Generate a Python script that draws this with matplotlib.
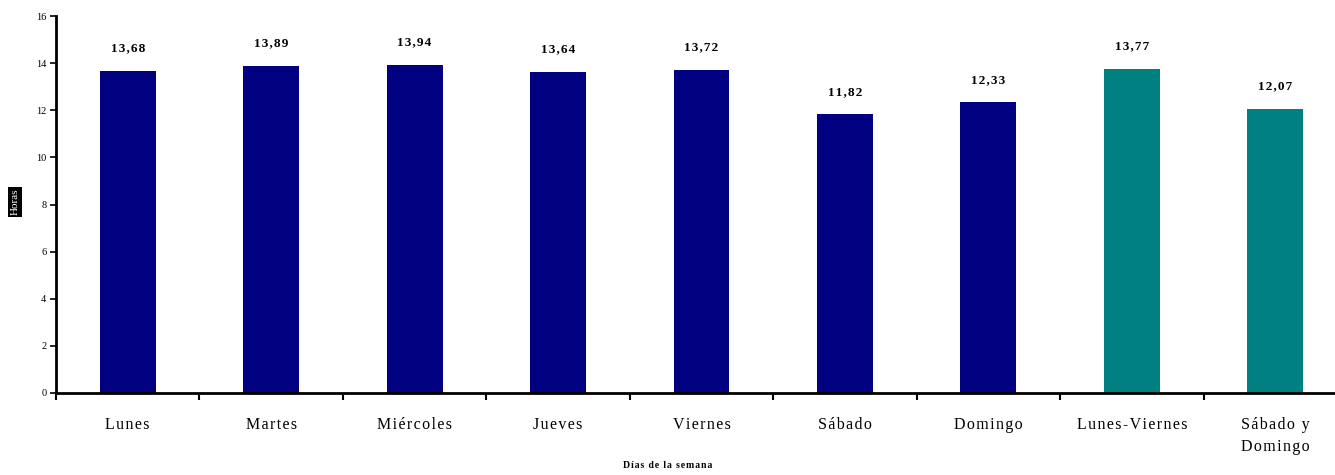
import matplotlib.pyplot as plt
import numpy as np

plt.rcParams["font.family"] = ["Liberation Serif", "DejaVu Serif"]

categorias = ["Lunes", "Martes", "Miércoles", "Jueves", "Viernes", "Sábado",
              "Domingo", "Lunes-Viernes", "Sábado y\nDomingo"]
horas = [13.68, 13.89, 13.94, 13.64, 13.72, 11.82, 12.33, 13.77, 12.07]
colores = ["#000080"] * 7 + ["#008080"] * 2


def espaciado(texto, sep="\u200a"):
    # separa un poco las letras, como en la hoja original
    return "\n".join(sep.join(linea) for linea in texto.split("\n"))


fig = plt.figure(figsize=(13.35, 4.75), dpi=100)
ax = fig.add_axes([56 / 1335, 82 / 475, 1291 / 1335, 377 / 475])

x = np.arange(len(categorias))
ax.bar(x, horas, width=0.39, color=colores)

for xi, v in zip(x, horas):
    ax.annotate(espaciado(f"{v:.2f}".replace(".", ",")), (xi, v), xytext=(0, 12),
                textcoords="offset points", ha="center", va="bottom",
                fontsize=9.5, fontweight="bold")

ax.set_xlim(-0.5, len(categorias) - 0.5)
ax.set_ylim(0, 16)
ax.set_yticks(range(0, 17, 2))
ax.tick_params(axis="y", labelsize=7.5, length=4, width=1.2, pad=3)

ax.set_xticks(np.arange(-0.5, len(categorias), 1))
ax.set_xticklabels([])
ax.set_xticks(x, minor=True)
ax.set_xticklabels([espaciado(c) for c in categorias], minor=True, fontsize=11.5,
                   linespacing=1.5)
ax.tick_params(axis="x", which="major", length=5, width=1.5, direction="out")
ax.tick_params(axis="x", which="minor", length=0, pad=17)

for s in ["top", "right"]:
    ax.spines[s].set_visible(False)
for s in ["left", "bottom"]:
    ax.spines[s].set_linewidth(2)

fig.text(0.5, 9 / 475, espaciado("Días de la semana"), ha="center", va="center",
         fontsize=7, fontweight="bold")
fig.text(15 / 1335, 1 - 202 / 475, "Horas", rotation=90, ha="center", va="center",
         fontsize=8, color="white",
         bbox=dict(facecolor="black", edgecolor="none", pad=1.5))

fig.savefig("out.png", dpi=100)
